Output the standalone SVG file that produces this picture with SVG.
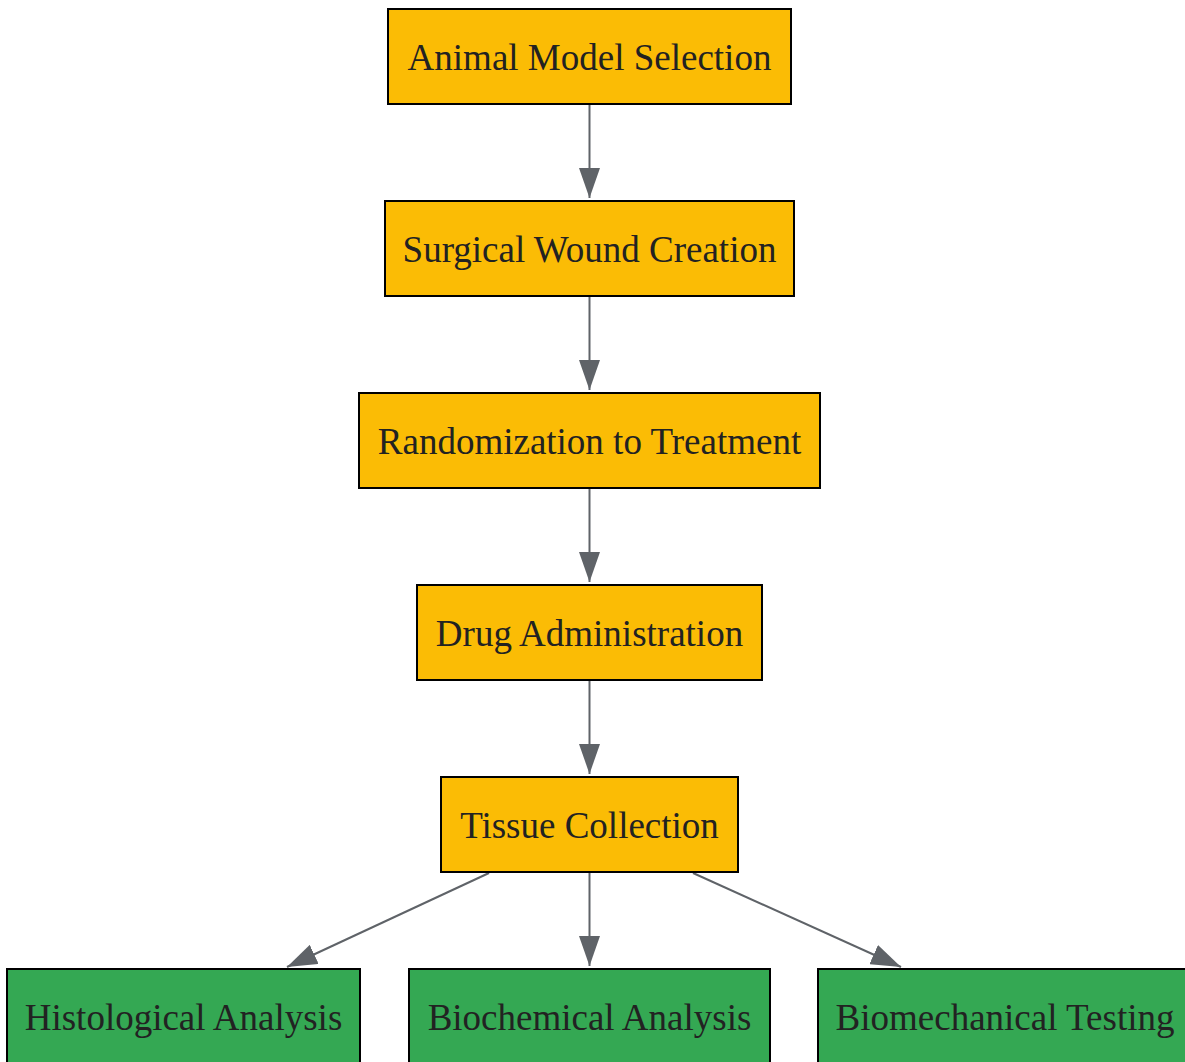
<svg xmlns="http://www.w3.org/2000/svg" width="1185" height="1062" viewBox="0 0 1185 1062">
<defs>
<style>
.n rect{stroke:#000;stroke-width:2}
.o rect{fill:#FBBC05}
.g rect{fill:#34A853}
.n text{font-family:"Liberation Serif","Times New Roman",serif;font-size:37px;fill:#222;text-anchor:middle}
.e line{stroke:#5F6368;stroke-width:2;fill:none;marker-end:url(#ah)}
</style>
<marker id="ah" markerUnits="userSpaceOnUse" markerWidth="30" markerHeight="21" refX="30" refY="10.5" orient="auto" viewBox="0 0 30 21">
<path d="M0,0 L30,10.5 L0,21 z" fill="#5F6368"/>
</marker>
</defs>
<rect width="1185" height="1062" fill="#fff"/>
<g id="edges" class="e">
<line x1="589.5" y1="105" x2="589.5" y2="198"/>
<line x1="589.5" y1="297" x2="589.5" y2="390"/>
<line x1="589.5" y1="489" x2="589.5" y2="582"/>
<line x1="589.5" y1="681" x2="589.5" y2="774"/>
<line x1="489" y1="873" x2="287" y2="967"/>
<line x1="589.5" y1="873" x2="589.5" y2="966"/>
<line x1="693" y1="873" x2="901" y2="967"/>
</g>
<g id="n1" class="n o"><rect x="388" y="9" width="403" height="95"/><text x="589.5" y="70">Animal Model Selection</text></g>
<g id="n2" class="n o"><rect x="385" y="201" width="409" height="95"/><text x="589.5" y="262">Surgical Wound Creation</text></g>
<g id="n3" class="n o"><rect x="359" y="393" width="461" height="95"/><text x="589.5" y="454">Randomization to Treatment</text></g>
<g id="n4" class="n o"><rect x="417" y="585" width="345" height="95"/><text x="589.5" y="646">Drug Administration</text></g>
<g id="n5" class="n o"><rect x="441" y="777" width="297" height="95"/><text x="589.5" y="838">Tissue Collection</text></g>
<g id="n6" class="n g"><rect x="7" y="969" width="353" height="95"/><text x="183.5" y="1030">Histological Analysis</text></g>
<g id="n7" class="n g"><rect x="409" y="969" width="361" height="95"/><text x="589.5" y="1030">Biochemical Analysis</text></g>
<g id="n8" class="n g"><rect x="818" y="969" width="370" height="95"/><text x="1005" y="1030">Biomechanical Testing</text></g>
</svg>
